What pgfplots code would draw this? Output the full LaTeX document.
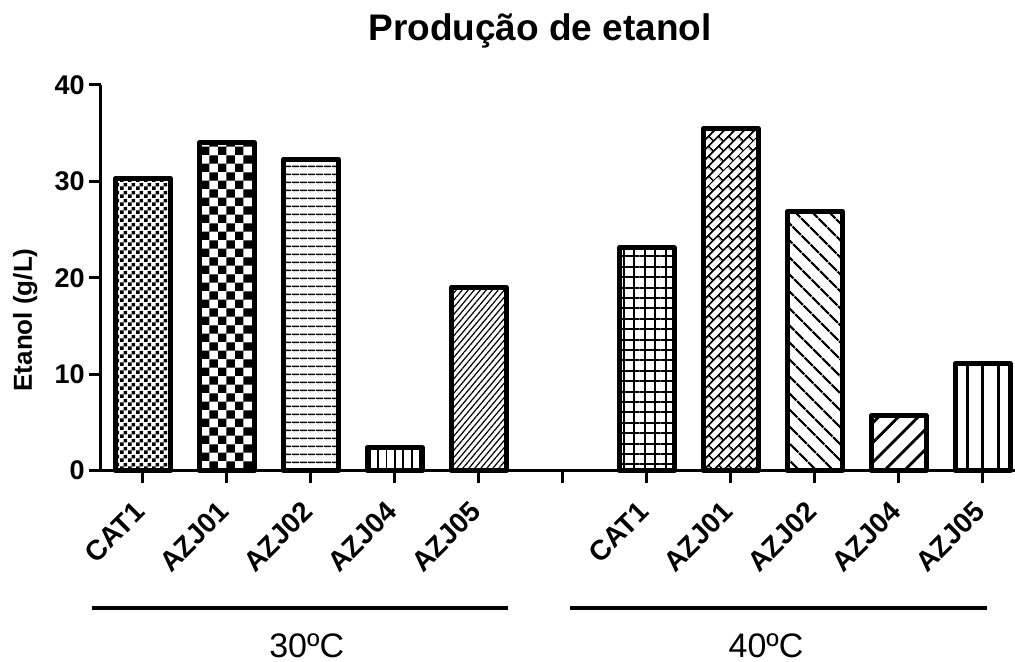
\documentclass[border=0pt]{standalone}
\usepackage{fontspec}
\setmainfont{Liberation Sans}
\usepackage{pgfplots}
\pgfplotsset{compat=1.18}
\usetikzlibrary{patterns,patterns.meta}

% checkerboards of two sizes
\pgfdeclarepatternformonly{checkfine}{\pgfpointorigin}{\pgfpoint{4pt}{4pt}}{\pgfpoint{4pt}{4pt}}{%
  \pgfpathrectangle{\pgfpointorigin}{\pgfpoint{2pt}{2pt}}%
  \pgfpathrectangle{\pgfpoint{2pt}{2pt}}{\pgfpoint{2pt}{2pt}}%
  \pgfusepath{fill}}
\pgfdeclarepatternformonly{checkbig}{\pgfpointorigin}{\pgfpoint{8.4pt}{8.4pt}}{\pgfpoint{8.4pt}{8.4pt}}{%
  \pgfpathrectangle{\pgfpointorigin}{\pgfpoint{4.2pt}{4.2pt}}%
  \pgfpathrectangle{\pgfpoint{4.2pt}{4.2pt}}{\pgfpoint{4.2pt}{4.2pt}}%
  \pgfusepath{fill}}
% bricks turned by 45 degrees
\tikzdeclarepattern{
  name=diagbricks,
  type=uncolored,
  bottom left={(0pt,0pt)},
  top right={(7pt,7pt)},
  tile size={(7pt,7pt)},
  tile transformation={rotate=45},
  code={
    \draw[line width=0.9pt] (0pt,1pt) -- (7pt,1pt) (0pt,4.5pt) -- (7pt,4.5pt)
      (1.75pt,1pt) -- (1.75pt,4.5pt) (5.25pt,4.5pt) -- (5.25pt,7pt) (5.25pt,0pt) -- (5.25pt,1pt);
  }
}

\begin{document}
\begin{tikzpicture}
\begin{axis}[
    scale only axis,
    width=457pt, height=192.85pt,
    xmin=-0.5, xmax=10.385,
    ymin=0, ymax=40,
    clip=false,
    axis lines*=left,
    axis line style={line width=1.5pt, black},
    ytick={0,10,20,30,40},
    xtick={0,...,10},
    xticklabels={CAT1,AZJ01,AZJ02,AZJ04,AZJ05,,CAT1,AZJ01,AZJ02,AZJ04,AZJ05},
    tick align=outside,
    major tick length=6pt,
    tick style={line width=1.5pt, black},
    /pgf/number format/assume math mode=true,
    yticklabel style={font=\bfseries\fontsize{13.5}{13.5}\selectfont, inner sep=0.5pt, xshift=-1.5pt},
    xticklabel style={xshift=-5pt, yshift=-7pt, rotate=45, anchor=north east, inner sep=1pt,
        font=\bfseries\fontsize{14}{14}\selectfont},
    ylabel={Etanol (g/L)},
    ylabel style={at={(axis description cs:-0.083,0.391)}, anchor=center,
        font=\bfseries\fontsize{13}{13}\selectfont},
    ybar,
    bar width=27.5pt,
    every axis plot/.append style={draw=black, line width=2.5pt, line join=round, pattern color=black},
]
% 30 C
\addplot[bar shift=0pt, pattern=checkfine] coordinates {(0,30.3)};
\addplot[bar shift=0pt, pattern=checkbig] coordinates {(1,34.0)};
\addplot[bar shift=0pt, pattern={Lines[angle=0,distance=4pt,line width=0.8pt]}] coordinates {(2,32.3)};
\addplot[bar shift=0pt, pattern={Lines[angle=90,distance=4.2pt,line width=0.9pt]}] coordinates {(3,2.4)};
\addplot[bar shift=0pt, pattern={Lines[angle=50,distance=2.3pt,line width=0.6pt]}] coordinates {(4,19.0)};
% 40 C
\addplot[bar shift=0pt, pattern={Hatch[angle=0,distance=5.2pt,line width=1pt]}] coordinates {(6,23.1)};
\addplot[bar shift=0pt, pattern=diagbricks] coordinates {(7,35.5)};
\addplot[bar shift=0pt, pattern={Lines[angle=-45,distance=6.5pt,line width=1.3pt]}] coordinates {(8,26.9)};
\addplot[bar shift=0pt, pattern={Lines[angle=45,distance=7pt,line width=1.4pt]}] coordinates {(9,5.7)};
\addplot[bar shift=0pt, pattern={Lines[angle=90,distance=7.8pt,line width=1.6pt]}] coordinates {(10,11.1)};
\end{axis}
% title
\node[anchor=base, font=\bfseries\fontsize{18.5}{18.5}\selectfont] at (219.5pt,215pt) {Produção de etanol};
% group brackets
\draw[line width=2pt] (-4.65pt,-68.8pt) -- (203.65pt,-68.8pt);
\draw[line width=2pt] (234.5pt,-68.8pt) -- (442.85pt,-68.8pt);
\node[font=\fontsize{17}{17}\selectfont] at (102.85pt,-87.65pt) {30ºC};
\node[font=\fontsize{17}{17}\selectfont] at (332.5pt,-87.65pt) {40ºC};
\pgfresetboundingbox
\path[use as bounding box] (-50.5pt,-95.65pt) rectangle (457pt,235.35pt);
\end{tikzpicture}
\end{document}
